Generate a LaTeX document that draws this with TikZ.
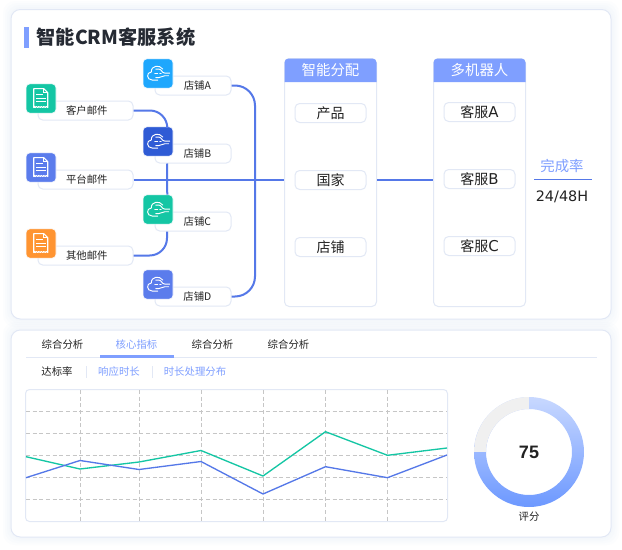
\documentclass[tikz,border=0pt]{standalone}
\usepackage{fontspec}
\setmainfont{Noto Sans CJK SC}
\newfontfamily\latinwide{DejaVu Sans}
\newfontfamily\numfont{Liberation Sans}
\newcommand{\wideL}[1]{{\latinwide\fontsize{11.2pt}{12pt}\selectfont #1}}
\usetikzlibrary{calc}
\definecolor{bord}{HTML}{E2E8F5}
\definecolor{shad}{HTML}{DCE4F4}
\definecolor{accent}{HTML}{7F9FFF}
\definecolor{wire}{HTML}{5578E8}
\definecolor{ink}{HTML}{222222}
\definecolor{titleink}{HTML}{252A33}
\definecolor{gridc}{HTML}{C6C6C6}
\definecolor{cgreen}{HTML}{14C6A4}
\definecolor{cblue}{HTML}{1EA7FD}
\definecolor{cdark}{HTML}{2F5BD5}
\definecolor{cmid}{HTML}{5B7CEC}
\definecolor{corange}{HTML}{FF9431}
\definecolor{dtop}{HTML}{C8D8FF}
\definecolor{dbot}{HTML}{6C98FF}
\tikzset{
  x=.75pt,y=-.75pt,
  card/.style={draw=bord,fill=white,line width=.75pt,rounded corners=7pt},
  shadowbox/.style={fill=shad,fill opacity=.07,rounded corners=9pt},
  iconbox/.style={rectangle,draw=white!85!bord,line width=.4pt,rounded corners=3pt,minimum width=22.5pt,minimum height=22pt,inner sep=0pt},
  lblbox/.style={rectangle,draw=bord,fill=white,line width=.75pt,rounded corners=3.5pt,inner sep=0pt,text=ink,font=\fontsize{7.8pt}{9pt}\selectfont},
  mailbox/.style={lblbox,minimum width=71.25pt,minimum height=14.25pt,execute at begin node=\hspace*{2pt}},
  shopbox/.style={lblbox,minimum width=57pt,minimum height=14.25pt,execute at begin node=\hspace*{6.5pt}},
  itembox/.style={lblbox,minimum width=53.25pt,minimum height=14.25pt,font=\fontsize{10.5pt}{12pt}\selectfont},
  panelbox/.style={rectangle,draw=bord,fill=white,line width=.75pt,rounded corners=3.5pt,minimum width=69pt,minimum height=186pt,inner sep=0pt},
  headtext/.style={text=white,font=\fontsize{10.8pt}{12pt}\selectfont,inner sep=0pt},
  conn/.style={draw=wire,line width=1.5pt},
  tabtext/.style={inner sep=0pt,text=ink,font=\fontsize{7.8pt}{9pt}\selectfont},
  tabblue/.style={tabtext,text=accent},
  gridline/.style={draw=gridc,line width=.6pt,dash pattern=on 3pt off 2pt},
  sep/.style={draw=bord,line width=.75pt},
  docicon/.pic={
    \draw[white,line width=.8pt,line join=round] (8,5) -- (18,5) -- (22,9) -- (22,24)
      .. controls (21,22.5) and (20,22.5) .. (19.5,24) .. controls (18.5,22.5) and (17.5,22.5) .. (17,24)
      .. controls (16,22.5) and (15,22.5) .. (14.5,24) .. controls (13.5,22.5) and (12.5,22.5) .. (12,24)
      .. controls (11,22.5) and (10,22.5) .. (9.5,24) .. controls (9,22.5) and (8.5,22.5) .. (8,24) -- cycle;
    \draw[white,line width=.8pt] (18,5) -- (18,9) -- (22,9);
    \draw[white,line width=.8pt] (10.5,11) -- (17,11) (10.5,14.5) -- (20,14.5) (10.5,18) -- (20,18);
  },
  cloudicon/.pic={
    \draw[white,line width=.7pt,line cap=round] (15,21.5) -- (9.5,21.5)
      .. controls (3.5,21.5) and (3.5,13.5) .. (8.5,13.5) .. controls (8.5,6.5) and (17,6) .. (20,10.5);
    \draw[white,line width=.7pt,line cap=round] (13,10.5) -- (16,10.5) .. controls (19,10.5) and (19,14.5) .. (22,14.5) -- (27,14.5);
    \draw[white,line width=.7pt,line cap=round] (12,14.5) -- (15,14.5) (17,14.5) -- (18.5,14.5);
    \draw[white,line width=.7pt,line cap=round] (13,19) -- (16,19) .. controls (19,19) and (19,17.2) .. (22,17.2) -- (26,17.2);
  },
}
\begin{document}
\begin{tikzpicture}
\useasboundingbox (0,0) rectangle (622,550);
\fill[white] (0,0) rectangle (622,550);
% soft shadows
\foreach \e in {8,6,4,2}{
  \fill[shadowbox] (11-\e,9-\e) rectangle (611+\e,319+\e);
  \fill[shadowbox] (11-\e,330-\e) rectangle (611+\e,537+\e);
}
\path[card] (11,9.5) rectangle (611,319);
\path[card] (11,330) rectangle (611,537);

% title
\fill[accent] (24,27) rectangle (29,48);
\node[inner sep=0pt,anchor=west,text=titleink,font=\fontsize{14.4pt}{16pt}\bfseries\selectfont] (title) at (36.5,37.5) {智能CRM客服系统};

% panels
\node[panelbox] (p1) at (330.5,182.5) {};
\node[panelbox] (p2) at (479.5,182.5) {};
\fill[accent] (284.5,82) [rounded corners=3pt] -- (284.5,58.5) -- (376.5,58.5) [sharp corners] -- (376.5,82) -- cycle;
\fill[accent] (433.5,82) [rounded corners=3pt] -- (433.5,58.5) -- (525.5,58.5) [sharp corners] -- (525.5,82) -- cycle;
\node[headtext] (h1) at (330.5,70.5) {智能分配};
\node[headtext] (h2) at (479.5,70.5) {多机器人};
\node[itembox] (i1) at (330.5,113) {产品};
\node[itembox] (i2) at (330.5,180) {国家};
\node[itembox] (i3) at (330.5,247) {店铺};
\node[itembox] (r1) at (479.5,112) {客服\wideL{A}};
\node[itembox] (r2) at (479.5,179) {客服\wideL{B}};
\node[itembox] (r3) at (479.5,246) {客服\wideL{C}};

% labels
\node[mailbox] (m1) at (85.5,110.5) {客户邮件};
\node[mailbox] (m2) at (85.5,179.5) {平台邮件};
\node[mailbox] (m3) at (85.5,255.5) {其他邮件};
\node[shopbox] (s1) at (193,85.5) {店铺A};
\node[shopbox] (s2) at (193,153.5) {店铺B};
\node[shopbox] (s3) at (193,221.5) {店铺C};
\node[shopbox] (s4) at (193,296.5) {店铺D};

% icons
\node[iconbox,fill=cgreen] (a1) at (41,98.5) {};
\node[iconbox,fill=cmid] (a2) at (41,167.5) {};
\node[iconbox,fill=corange] (a3) at (41,243.5) {};
\node[iconbox,fill=cblue] (b1) at (158,73.5) {};
\node[iconbox,fill=cdark] (b2) at (158,141.5) {};
\node[iconbox,fill=cgreen] (b3) at (158,209.5) {};
\node[iconbox,fill=cmid] (b4) at (158,284.5) {};
\pic at (a1.north west) {docicon};
\pic at (a2.north west) {docicon};
\pic at (a3.north west) {docicon};
\pic at (b1.north west) {cloudicon};
\pic at (b2.north west) {cloudicon};
\pic at (b3.north west) {cloudicon};
\pic at (b4.north west) {cloudicon};

% connectors
\coordinate (trunk) at (255,190);
\path[conn,rounded corners=15pt] (s1.east) -| (trunk) |- (s4.east);
\path[conn,rounded corners=13pt] (m1.east) -| ([xshift=-4.5pt]b2.north east);
\path[conn,rounded corners=13pt] (m3.east) -| ([xshift=-19.5pt]s3.south);
\path[conn] ([xshift=-19.5pt]s2.south) -- ([xshift=-4.5pt]b3.north east);
\path[conn] (m2.east) -- (m2.east -| p1.west);
\path[conn] (i2.east -| p1.east) -- (i2.east -| p2.west);

% completion
\node[inner sep=0pt,text=accent,font=\fontsize{10.8pt}{12pt}\selectfont] (done) at (562,166) {完成率};
\node[inner sep=0pt,text=ink,font=\latinwide\fontsize{10.8pt}{12pt}\selectfont] (val) at (562,197) {24/48H};
\coordinate (ruleL) at (534,179.5);
\coordinate (ruleR) at (592,179.5);
\draw[wire,line width=.6pt] (ruleL) -- (ruleR);

% tabs
\node[tabtext] (t1) at (62.5,344.5) {综合分析};
\node[tabblue] (t2) at (136.5,344.5) {核心指标};
\node[tabtext] (t3) at (212.5,344.5) {综合分析};
\node[tabtext] (t4) at (288.5,344.5) {综合分析};
\draw[sep] (26,357.5) -- (597,357.5);
\fill[accent] (100,355.2) rectangle (174,358.2);
\node[tabtext] (u1) at (57,372) {达标率};
\node[tabblue] (u2) at (119,372) {响应时长};
\node[tabblue] (u3) at (195,372) {时长处理分布};
\draw[sep] (86.5,366) -- (86.5,378);
\draw[sep] (152.5,366) -- (152.5,378);

% chart
\draw[bord,fill=white,line width=.75pt,rounded corners=3pt] (25.5,389.5) rectangle (447.5,521.5);
\foreach \y in {411.3,433.3,455.3,477.3,499.3}{\draw[gridline] (26,\y) -- (447,\y);}
\foreach \x in {80.3,139.3,201.3,263.3,325.3,387.3}{\draw[gridline] (\x,390) -- (\x,521);}
\draw[cgreen,line width=1pt,line join=round] (26,456.7) -- (80,469) -- (139,462) -- (201,450.5) -- (263,476) -- (325.5,431.7) -- (387.5,455.3) -- (447,448);
\draw[wire,line width=1pt,line join=round] (26,477.7) -- (80,460.5) -- (139,469.5) -- (201,461.5) -- (263,494) -- (325.5,466.7) -- (387.5,477.7) -- (447,455);

% donut
\coordinate (dc) at (529,452);
\begin{scope}[even odd rule]
  \clip (dc) circle[radius=41.25pt] (dc) circle[radius=32.25pt];
  \shade[top color=dtop,bottom color=dbot] (474,397) rectangle (584,507);
  \fill[black!6] (474,397) rectangle (529,452);
\end{scope}
\node[inner sep=0pt,text=ink,font=\numfont\bfseries\fontsize{13.5pt}{15pt}\selectfont] (score) at (529,452) {75};
\node[inner sep=0pt,text=ink,font=\fontsize{7.8pt}{9pt}\selectfont] (scorel) at (529,517) {评分};
\end{tikzpicture}
\end{document}
